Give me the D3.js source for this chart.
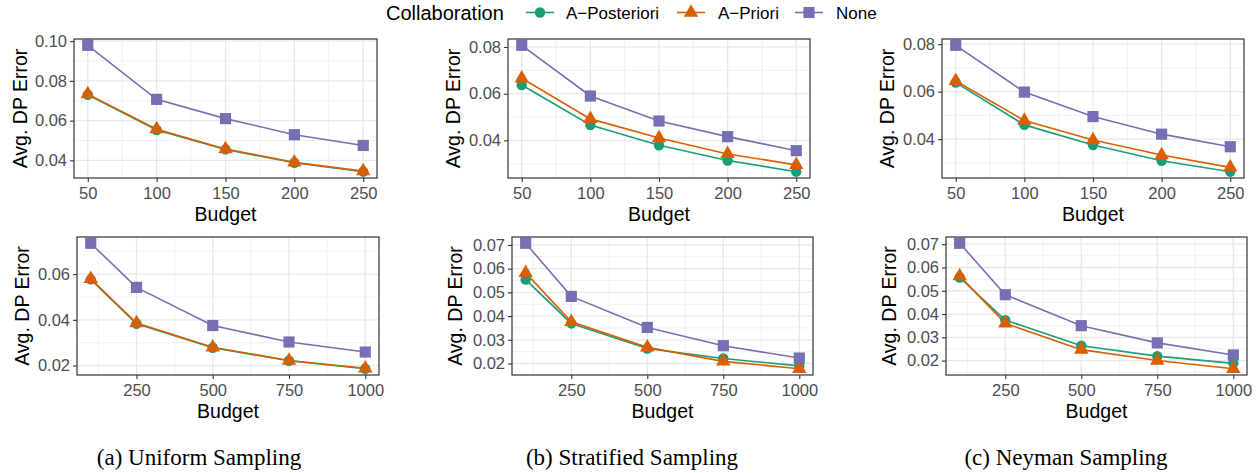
<!DOCTYPE html>
<html lang="en">
<head>
<meta charset="UTF-8">
<title>Avg. DP Error vs Budget</title>
<script src="https://d3js.org/d3.v7.min.js"></script>
<style>
    body { margin: 0; padding: 0; background: #ffffff; }
    svg { display: block; }
    .tick-label { font-family: "Liberation Sans", Arial, sans-serif; font-size: 16.5px; fill: #4d4d4d; }
    .axis-title { font-family: "Liberation Sans", Arial, sans-serif; font-size: 19.5px; fill: #000000; }
    .legend-title { font-family: "Liberation Sans", Arial, sans-serif; font-size: 20px; fill: #000000; }
    .legend-text { font-family: "Liberation Sans", Arial, sans-serif; font-size: 17px; fill: #000000; }
    .caption { font-family: "Liberation Serif", "Times New Roman", serif; font-size: 23px; fill: #000000; }
</style>
</head>
<body>
<svg width="1258" height="473"></svg>
<script>
    // ---- data ----
    const seriesNames = ["A\u2212Posteriori", "A\u2212Priori", "None"];
    const seriesColors = ["#1b9e77", "#d95f02", "#7570b3"];

    const budgetsTop = [50, 100, 150, 200, 250];
    const budgetsBottom = [100, 250, 500, 750, 1000];

    const uniformTopPost = [0.0730, 0.0553, 0.0455, 0.0388, 0.0343];
    const uniformTopPrio = [0.0733, 0.0557, 0.0457, 0.0390, 0.0346];
    const uniformTopNone = [0.0979, 0.0707, 0.0610, 0.0529, 0.0475];

    const stratTopPost = [0.0637, 0.0466, 0.0379, 0.0314, 0.0266];
    const stratTopPrio = [0.0666, 0.0492, 0.0410, 0.0342, 0.0295];
    const stratTopNone = [0.0807, 0.0590, 0.0483, 0.0416, 0.0356];

    const neymanTopPost = [0.0638, 0.0460, 0.0375, 0.0309, 0.0263];
    const neymanTopPrio = [0.0645, 0.0478, 0.0396, 0.0333, 0.0281];
    const neymanTopNone = [0.0795, 0.0598, 0.0495, 0.0421, 0.0368];

    const uniformBotPost = [0.0577, 0.0383, 0.0278, 0.0221, 0.0186];
    const uniformBotPrio = [0.0579, 0.0386, 0.0280, 0.0222, 0.0188];
    const uniformBotNone = [0.0735, 0.0542, 0.0375, 0.0303, 0.0259];

    const stratBotPost = [0.0554, 0.0369, 0.0263, 0.0221, 0.0190];
    const stratBotPrio = [0.0582, 0.0376, 0.0268, 0.0209, 0.0178];
    const stratBotNone = [0.0707, 0.0483, 0.0352, 0.0275, 0.0223];

    const neymanBotPost = [0.0557, 0.0374, 0.0264, 0.0219, 0.0188];
    const neymanBotPrio = [0.0563, 0.0360, 0.0247, 0.0200, 0.0165];
    const neymanBotNone = [0.0704, 0.0483, 0.0350, 0.0276, 0.0224];

    const xTicksTop = [50, 100, 150, 200, 250];
    const xTicksBottom = [250, 500, 750, 1000];
    const yTicksUniformTop = [0.04, 0.06, 0.08, 0.10];
    const yTicksTop = [0.04, 0.06, 0.08];
    const yTicksUniformBot = [0.02, 0.04, 0.06];
    const yTicksBot = [0.02, 0.03, 0.04, 0.05, 0.06, 0.07];

    const captions = ["(a) Uniform Sampling", "(b) Stratified Sampling", "(c) Neyman Sampling"];

    // ---- layout ----
    const panels = [
        { box: [74, 377, 39, 178], x: budgetsTop, xt: xTicksTop, yt: yTicksUniformTop, s: [uniformTopPost, uniformTopPrio, uniformTopNone], ytx: 20 },
        { box: [508, 810, 39, 178], x: budgetsTop, xt: xTicksTop, yt: yTicksTop, s: [stratTopPost, stratTopPrio, stratTopNone], ytx: 453 },
        { box: [942, 1244, 39, 178], x: budgetsTop, xt: xTicksTop, yt: yTicksTop, s: [neymanTopPost, neymanTopPrio, neymanTopNone], ytx: 887 },
        { box: [77, 379, 237, 375], x: budgetsBottom, xt: xTicksBottom, yt: yTicksUniformBot, s: [uniformBotPost, uniformBotPrio, uniformBotNone], ytx: 22 },
        { box: [512, 813, 237, 375], x: budgetsBottom, xt: xTicksBottom, yt: yTicksBot, s: [stratBotPost, stratBotPrio, stratBotNone], ytx: 455 },
        { box: [946, 1247, 237, 375], x: budgetsBottom, xt: xTicksBottom, yt: yTicksBot, s: [neymanBotPost, neymanBotPrio, neymanBotNone], ytx: 889 }
    ];

    const symbols = [
        d3.symbol().type(d3.symbolCircle).size(85),
        d3.symbol().type(d3.symbolTriangle).size(90),
        d3.symbol().type(d3.symbolSquare).size(125)
    ];

    const svg = d3.select("svg");

    function expand(ext) {
        const pad = (ext[1] - ext[0]) * 0.05;
        return [ext[0] - pad, ext[1] + pad];
    }

    // ggplot style minor breaks: halfway between majors, extended past the ends
    function minors(majors, domain) {
        const step = majors[1] - majors[0];
        const out = [];
        for (let v = majors[0] - step / 2; v <= domain[1]; v += step) {
            if (v >= domain[0]) out.push(v);
        }
        return out;
    }

    panels.forEach(p => {
        const [l, r, t, b] = p.box;
        const allY = p.s.flat();
        const x = d3.scaleLinear().domain(expand(d3.extent(p.x))).range([l, r]);
        const y = d3.scaleLinear().domain(expand(d3.extent(allY))).range([b, t]);

        const g = svg.append("g");

        // grid
        minors(p.xt, x.domain()).forEach(v => {
            g.append("line").attr("x1", x(v)).attr("x2", x(v)).attr("y1", t).attr("y2", b)
                .attr("stroke", "#ebebeb").attr("stroke-width", 0.7);
        });
        minors(p.yt, y.domain()).forEach(v => {
            g.append("line").attr("x1", l).attr("x2", r).attr("y1", y(v)).attr("y2", y(v))
                .attr("stroke", "#ebebeb").attr("stroke-width", 0.7);
        });
        p.xt.forEach(v => {
            g.append("line").attr("x1", x(v)).attr("x2", x(v)).attr("y1", t).attr("y2", b)
                .attr("stroke", "#e8e8e8").attr("stroke-width", 1.3);
        });
        p.yt.forEach(v => {
            g.append("line").attr("x1", l).attr("x2", r).attr("y1", y(v)).attr("y2", y(v))
                .attr("stroke", "#e8e8e8").attr("stroke-width", 1.3);
        });

        // axes
        const xAxis = d3.axisBottom(x).tickValues(p.xt).tickSize(4).tickPadding(5.5).tickFormat(d3.format("d"));
        const yAxis = d3.axisLeft(y).tickValues(p.yt).tickSize(4).tickPadding(3).tickFormat(d3.format(".2f"));
        const xg = g.append("g").attr("transform", `translate(0,${b})`).call(xAxis);
        const yg = g.append("g").attr("transform", `translate(${l},0)`).call(yAxis);
        [xg, yg].forEach(a => {
            a.select(".domain").remove();
            a.selectAll(".tick line").attr("stroke", "#333333").attr("stroke-width", 1.1);
            a.selectAll(".tick text").attr("class", "tick-label").attr("font-size", null).attr("font-family", null);
        });

        // lines then points
        const line = d3.line().x((d, i) => x(p.x[i])).y(d => y(d));
        p.s.forEach((vals, k) => {
            g.append("path").datum(vals).attr("d", line)
                .attr("fill", "none").attr("stroke", seriesColors[k]).attr("stroke-width", 1.6);
        });
        p.s.forEach((vals, k) => {
            g.selectAll(null).data(vals).enter().append("path")
                .attr("d", symbols[k])
                .attr("transform", (d, i) => `translate(${x(p.x[i])},${y(d)})`)
                .attr("fill", seriesColors[k]);
        });

        // panel border
        g.append("rect").attr("x", l).attr("y", t).attr("width", r - l).attr("height", b - t)
            .attr("fill", "none").attr("stroke", "#333333").attr("stroke-width", 1.2);

        // titles
        g.append("text").attr("class", "axis-title")
            .attr("x", (l + r) / 2).attr("y", b + 42.5).attr("text-anchor", "middle").text("Budget");
        g.append("text").attr("class", "axis-title")
            .attr("transform", `translate(${p.ytx + 7},${(t + b) / 2}) rotate(-90)`)
            .attr("text-anchor", "middle").text("Avg. DP Error");
    });

    // captions
    [[199, 0], [632, 1], [1066, 2]].forEach(([cx, i]) => {
        svg.append("text").attr("class", "caption").attr("x", cx).attr("y", 465)
            .attr("text-anchor", "middle").text(captions[i]);
    });

    // legend
    const leg = svg.append("g");
    leg.append("text").attr("class", "legend-title").attr("x", 386).attr("y", 20).text("Collaboration");
    const keyX = [526, 677, 795];
    const labelX = [566, 718, 836];
    seriesNames.forEach((name, k) => {
        leg.append("line").attr("x1", keyX[k]).attr("x2", keyX[k] + 28).attr("y1", 12.5).attr("y2", 12.5)
            .attr("stroke", seriesColors[k]).attr("stroke-width", 1.6);
        leg.append("path").attr("d", symbols[k]).attr("transform", `translate(${keyX[k] + 14},12.5)`)
            .attr("fill", seriesColors[k]);
        leg.append("text").attr("class", "legend-text").attr("x", labelX[k]).attr("y", 19).text(name);
    });
</script>
</body>
</html>
